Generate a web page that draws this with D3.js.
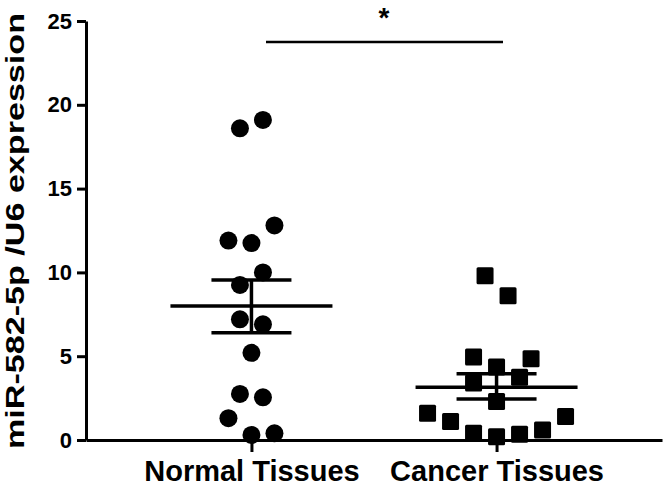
<!DOCTYPE html>
<html>
<head>
<meta charset="utf-8">
<script src="https://cdn.jsdelivr.net/npm/d3@7"></script>
<style>
  body { margin: 0; background: #fff; }
  svg { display: block; font-family: Arial, "Liberation Sans", sans-serif; }
</style>
</head>
<body>
<svg id="chart" width="664" height="487"></svg>
<script>
// categorías y valores
const categories = ['Normal Tissues', 'Cancer Tissues'];
const normalValues = [18.6, 19.1, 12.8, 11.9, 11.75, 10.0, 9.25, 7.2, 6.9, 5.2, 2.75, 2.55, 1.3, 0.3, 0.4];
const normalSlots  = [-1, 1, 2, -2, 0, 1, -1, -1, 1, 0, -1, 1, -2, 0, 2];
const cancerValues = [9.8, 8.6, 4.95, 4.85, 4.35, 3.75, 3.4, 2.3, 1.6, 1.1, 1.4, 0.4, 0.2, 0.35, 0.6];
const cancerSlots  = [-0.5, 0.5, -1, 1.5, 0, 1, -1, 0, -3, -2, 3, -1, 0, 1, 2];
const means = [8.0, 3.15];
const semHigh = [9.55, 3.95];
const semLow = [6.4, 2.45];
const yTicks = [0, 5, 10, 15, 20, 25];
const yLabel = 'miR-582-5p /U6 expression';

const svg = d3.select('#chart');

const x = d3.scalePoint()
    .domain(categories)
    .range([86, 662])
    .padding(0.675);

const y = d3.scaleLinear()
    .domain([0, 25])
    .range([440, 21]);

// separación horizontal de los puntos dentro de cada grupo
const slotStep = { 'Normal Tissues': 11.5, 'Cancer Tissues': 23 };

// EJE Y
const yAxis = svg.append('g')
    .attr('transform', 'translate(86,0)')
    .call(d3.axisLeft(y).tickValues(yTicks).tickSize(9).tickSizeOuter(0).tickPadding(5).tickFormat(d3.format('d')));
yAxis.select('.domain').attr('stroke', '#000').attr('stroke-width', 3);
yAxis.selectAll('.tick line').attr('stroke', '#000').attr('stroke-width', 3);
yAxis.selectAll('.tick text')
    .attr('fill', '#000')
    .attr('font-size', '22px')
    .attr('font-weight', 'bold')
    .attr('font-family', 'Arial, "Liberation Sans", sans-serif');

// EJE X
const xAxis = svg.append('g')
    .attr('transform', 'translate(0,440)')
    .call(d3.axisBottom(x).tickSize(12).tickSizeOuter(0));
xAxis.select('.domain').attr('stroke', '#000').attr('stroke-width', 3);
xAxis.selectAll('.tick line').attr('stroke', '#000').attr('stroke-width', 3);
xAxis.selectAll('.tick text')
    .attr('fill', '#000')
    .attr('y', 41)
    .attr('dy', 0)
    .attr('font-size', '29px')
    .attr('font-weight', 'bold')
    .attr('font-family', 'Arial, "Liberation Sans", sans-serif');

// título del eje Y
svg.append('text')
    .attr('transform', `translate(24,${231}) rotate(-90)`)
    .attr('text-anchor', 'middle')
    .attr('font-size', '26px')
    .attr('font-weight', 'bold')
    .attr('textLength', 436)
    .attr('lengthAdjust', 'spacingAndGlyphs')
    .text(yLabel);

// media y error estándar
const g = svg.append('g');
categories.forEach((c, i) => {
    const cx = x(c);
    g.append('line')
        .attr('x1', cx - 81).attr('x2', cx + 81)
        .attr('y1', y(means[i])).attr('y2', y(means[i]))
        .attr('stroke', '#000').attr('stroke-width', 3.5);
    [semHigh[i], semLow[i]].forEach(v => {
        g.append('line')
            .attr('x1', cx - 40).attr('x2', cx + 40)
            .attr('y1', y(v)).attr('y2', y(v))
            .attr('stroke', '#000').attr('stroke-width', 3.5);
    });
    g.append('line')
        .attr('x1', cx).attr('x2', cx)
        .attr('y1', y(semHigh[i])).attr('y2', y(semLow[i]))
        .attr('stroke', '#000').attr('stroke-width', 3.5);
});

// PUNTOS: círculos (normal)
g.selectAll('circle.normal')
    .data(normalValues.map((v, i) => ({ v, s: normalSlots[i] })))
    .join('circle')
    .attr('class', 'normal')
    .attr('cx', d => x(categories[0]) + d.s * slotStep[categories[0]])
    .attr('cy', d => y(d.v))
    .attr('r', 9)
    .attr('fill', '#000');

// PUNTOS: cuadrados (cáncer)
const side = 17;
g.selectAll('rect.cancer')
    .data(cancerValues.map((v, i) => ({ v, s: cancerSlots[i] })))
    .join('rect')
    .attr('class', 'cancer')
    .attr('x', d => x(categories[1]) + d.s * slotStep[categories[1]] - side / 2)
    .attr('y', d => y(d.v) - side / 2)
    .attr('width', side)
    .attr('height', side)
    .attr('rx', 1.5)
    .attr('fill', '#000');

// barra de significancia
svg.append('line')
    .attr('x1', 266).attr('x2', 503)
    .attr('y1', 42).attr('y2', 42)
    .attr('stroke', '#000').attr('stroke-width', 2.5);
svg.append('text')
    .attr('x', 384)
    .attr('y', 27)
    .attr('text-anchor', 'middle')
    .attr('font-size', '28px')
    .attr('font-weight', 'bold')
    .text('*');
</script>
</body>
</html>
